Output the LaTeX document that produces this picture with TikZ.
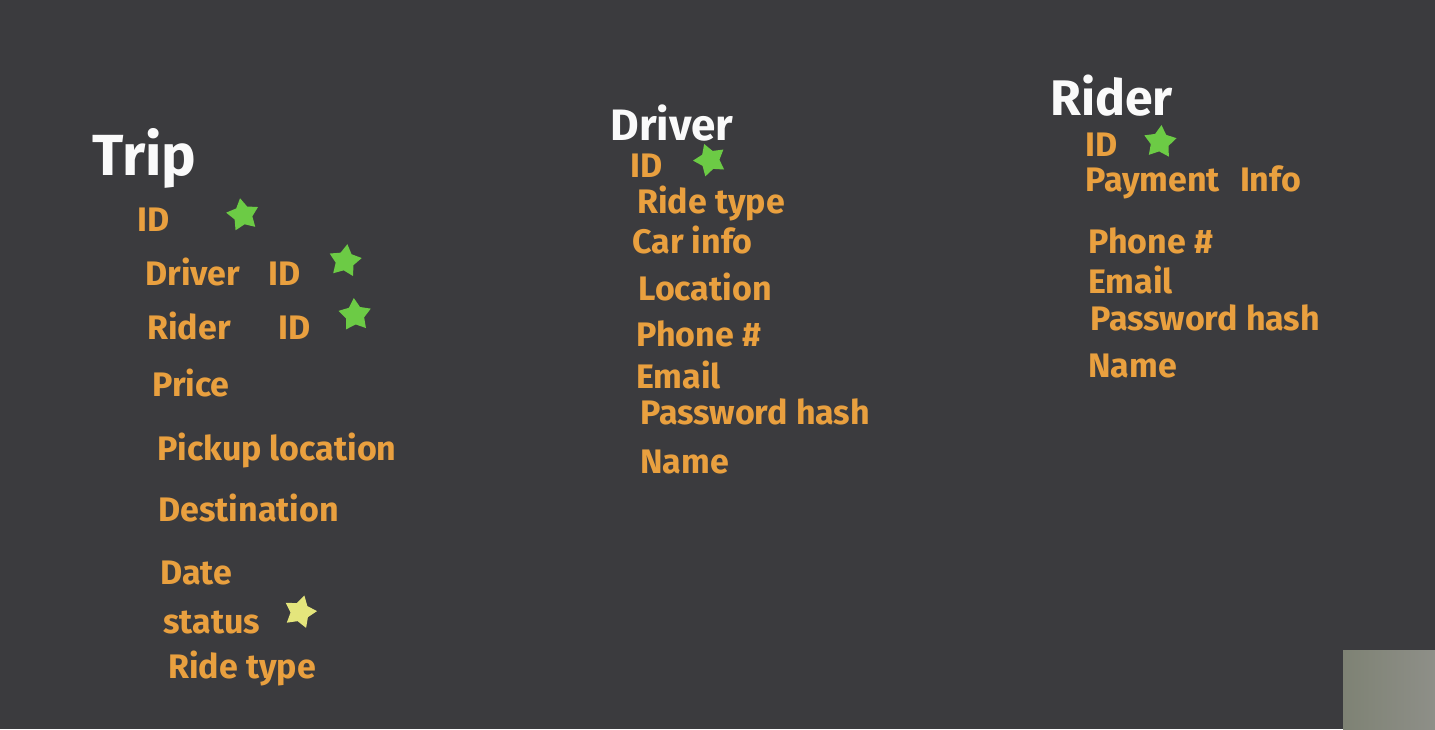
\documentclass[tikz,border=0pt]{standalone}
\usepackage{fontspec}
\setmainfont{Fira Sans}
\usetikzlibrary{shapes.geometric}
\definecolor{board}{HTML}{3B3B3E}
\definecolor{chalkorange}{HTML}{E9A03F}
\definecolor{chalkwhite}{HTML}{FAFAFA}
\definecolor{keygreen}{HTML}{6CCB45}
\definecolor{keyyellow}{HTML}{E4E57C}
\definecolor{overlayleft}{HTML}{7E8274}
\definecolor{overlayright}{HTML}{8E8F88}
\tikzset{
    every picture/.style={line cap=round,line join=round},
    tabletitle/.style={anchor=west,inner sep=0pt,text=chalkwhite,
      font=\fontsize{25}{28}\selectfont\bfseries},
    field/.style={anchor=west,inner sep=0pt,text=chalkorange,
      font=\fontsize{17}{19}\selectfont\bfseries},
    keymark/.style={star,star points=5,star point ratio=1.8,
      minimum size=17pt,inner sep=0pt,fill=keygreen},
    statusmark/.style={keymark,fill=keyyellow}
}
\begin{document}
\begin{tikzpicture}[x=0.5pt,y=-0.5pt]
  % board and video overlay
  \fill[board] (0,0) rectangle (1435,729);
  \shade[left color=overlayleft,right color=overlayright] (1343,650) rectangle (1435,729);

  % Trip table
  \node[tabletitle,font=\fontsize{29}{32}\selectfont\bfseries] (trip) at (92,158) {Trip};
  \node[field] (tripid) at (137,220) {ID};
  \node[keymark,rotate=10] (tripidkey) at (243,215) {};
  \node[field] (tripdriver) at (145,272) {Driver\hspace{14pt}ID};
  \node[keymark,rotate=-8] (tripdriverkey) at (345,261) {};
  \node[field] (triprider) at (147,326) {Rider\hspace{24pt}ID};
  \node[keymark,rotate=4] (tripriderkey) at (355,315) {};
  \node[field] (tripprice) at (152,383) {Price};
  \node[field] (trippickup) at (157,450) {Pickup location};
  \node[field] (tripdest) at (158,508) {Destination};
  \node[field] (tripdate) at (160,573) {Date};
  \node[field] (tripstatus) at (163,622) {status};
  \node[statusmark,rotate=-15] (tripstatuskey) at (300,612) {};
  \node[field] (tripride) at (168,668) {Ride type};

  % Driver table
  \node[tabletitle,font=\fontsize{22}{25}\selectfont\bfseries] (driver) at (610,123) {Driver};
  \node[field] (driverid) at (630,166) {ID};
  \node[keymark,rotate=20] (driveridkey) at (710,160) {};
  \node[field] (driverride) at (637,203) {Ride type};
  \node[field] (drivercar) at (632,240) {Car info};
  \node[field] (driverloc) at (638,287) {Location};
  \node[field] (driverphone) at (636,334) {Phone \#};
  \node[field] (driveremail) at (636,375) {Email};
  \node[field] (driverpass) at (640,412) {Password hash};
  \node[field] (drivername) at (640,462) {Name};

  % Rider table
  \node[tabletitle] (rider) at (1050,96) {Rider};
  \node[field] (riderid) at (1085,145) {ID};
  \node[keymark,rotate=-5] (rideridkey) at (1160,142) {};
  \node[field] (riderpay) at (1085,182) {Payment\hspace{10pt}Info};
  \node[field] (riderphone) at (1088,241) {Phone \#};
  \node[field] (rideremail) at (1088,280) {Email};
  \node[field] (riderpass) at (1090,318) {Password hash};
  \node[field] (ridername) at (1088,366) {Name};
\end{tikzpicture}
\end{document}
